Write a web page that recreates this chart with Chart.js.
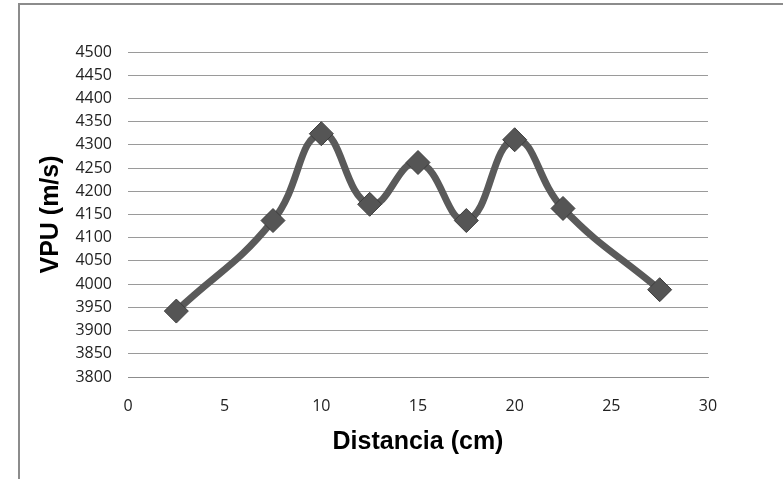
<!DOCTYPE html>
<html>
<head>
<meta charset="utf-8">
<script src="https://cdn.jsdelivr.net/npm/chart.js@4"></script>
<style>
    body { margin: 0; background: #fff; }
    #frame { position: absolute; left: 18px; top: 3px; width: 763px; height: 500px; border: 2px solid #8c8c8c; border-bottom: none; }
    #wrap { position: absolute; left: 0; top: 0; width: 783px; height: 479px; }
</style>
</head>
<body>
<div id="frame"></div>
<div id="wrap"><canvas id="chart"></canvas></div>
<script>
// Distancia (cm) vs VPU (m/s)
const distancias = [2.5, 7.5, 10, 12.5, 15, 17.5, 20, 22.5, 27.5];
const vpu = [3942, 4137, 4324, 4172, 4262, 4137, 4311, 4163, 3988];
const xTicks = [0, 5, 10, 15, 20, 25, 30];
const yTicks = [3800, 3850, 3900, 3950, 4000, 4050, 4100, 4150, 4200, 4250, 4300, 4350, 4400, 4450, 4500];

const tickFont = { family: '"Open Sans", sans-serif', size: 16 };
const titleFont = { family: '"Liberation Sans", Arial, sans-serif', size: 25, weight: 'bold' };

const ctx = document.getElementById('chart').getContext('2d');
new Chart(ctx, {
    type: 'scatter',
    data: {
        datasets: [{
            label: 'VPU',
            data: distancias.map((d, i) => ({ x: d, y: vpu[i] })),
            showLine: true,
            borderColor: '#5a5a5a',
            borderWidth: 7,
            tension: 0.45,
            pointStyle: 'rectRot',
            pointRadius: 12,
            pointHoverRadius: 12,
            pointBackgroundColor: '#555555',
            pointBorderColor: '#3d3d3d',
            pointBorderWidth: 1
        }]
    },
    options: {
        responsive: true,
        maintainAspectRatio: false,
        animation: false,
        layout: { padding: { left: 0, right: 75, top: 52, bottom: 0 } },
        plugins: { legend: { display: false }, tooltip: { enabled: false } },
        scales: {
            x: {
                type: 'linear',
                min: 0, max: 30,
                afterBuildTicks: s => { s.ticks = xTicks.map(v => ({ value: v })); },
                afterFit: s => { s.height = 102; },
                grid: { display: false, drawTicks: false },
                border: { display: true, color: '#8c8c8c', width: 1 },
                ticks: { font: tickFont, color: '#222', padding: 20, maxRotation: 0, callback: v => String(v) },
                title: { display: true, text: 'Distancia (cm)', font: titleFont, color: '#000', padding: { top: 0, bottom: 22 } }
            },
            y: {
                min: 3800, max: 4500,
                afterBuildTicks: s => { s.ticks = yTicks.map(v => ({ value: v })); },
                afterFit: s => { s.width = 128; },
                grid: { color: '#9a9a9a', lineWidth: 1, drawTicks: false },
                border: { display: false },
                ticks: { font: tickFont, color: '#222', padding: 16, callback: v => String(v) },
                title: { display: true, text: 'VPU (m/s)', font: titleFont, color: '#000', padding: { top: 36, bottom: 0 } }
            }
        }
    }
});
</script>
</body>
</html>
